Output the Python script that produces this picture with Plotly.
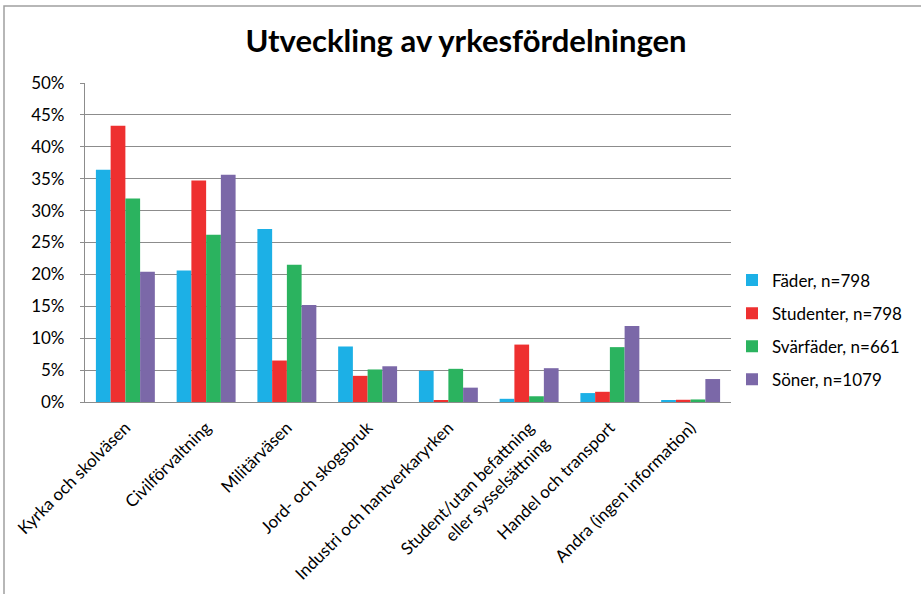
import plotly.graph_objects as go

# categories and series (percent)
categories = [
    "Kyrka och skolväsen",
    "Civilförvaltning",
    "Militärväsen",
    "Jord- och skogsbruk",
    "Industri och hantverkaryrken",
    "Student/utan befattning<br>eller sysselsättning",
    "Handel och transport",
    "Andra (ingen information)",
]
fader = [36.4, 20.6, 27.1, 8.7, 4.9, 0.5, 1.4, 0.2]
studenter = [43.3, 34.7, 6.5, 4.1, 0.2, 9.0, 1.6, 0.35]
svarfader = [31.9, 26.2, 21.5, 5.1, 5.2, 0.9, 8.6, 0.4]
soner = [20.4, 35.6, 15.2, 5.6, 2.25, 5.3, 11.9, 3.6]

series_names = ["Fäder, n=798", "Studenter, n=798", "Svärfäder, n=661", "Söner, n=1079"]
series_values = [fader, studenter, svarfader, soner]
colors = ["#1CB0E6", "#EE3030", "#2BB35F", "#7B68A8"]

FONT = "Lato, Liberation Sans, sans-serif"

fig = go.Figure()
for name, vals, col in zip(series_names, series_values, colors):
    fig.add_trace(go.Bar(
        name=name, x=categories, y=[v / 100 for v in vals],
        marker=dict(color=col, line=dict(width=0)),
        legendgroup=name,
    ))

# plot area in pixels: x 85..731, y 83..402
L, R, T, B = 85, 921 - 731, 83, 594 - 402
W, H = 921 - L - R, 594 - T - B

def px_x(p):
    return (p - L) / W

def px_y(p):
    return (594 - B - p) / H

fig.update_layout(
    width=921, height=594,
    margin=dict(l=L, r=R, t=T, b=B, autoexpand=False),
    paper_bgcolor="white", plot_bgcolor="white",
    barmode="group", bargap=0.27, bargroupgap=0,
    font=dict(family=FONT, size=16, color="#000000"),
    title=dict(text="<b>Utveckling av yrkesfördelningen</b>",
               x=px_x(466), xref="paper", xanchor="center",
               y=1 - 41 / 594, yanchor="middle",
               font=dict(family=FONT, size=31, color="#000000")),
    legend=dict(x=px_x(732), y=px_y(330), xanchor="left", yanchor="middle",
                font=dict(family=FONT, size=17), tracegroupgap=8,
                itemwidth=30, traceorder="grouped",
                bgcolor="rgba(0,0,0,0)"),
    shapes=[dict(type="rect", xref="paper", yref="paper",
                 x0=px_x(4), x1=px_x(930), y0=px_y(600), y1=px_y(6),
                 line=dict(color="#a0a0a0", width=1.5), layer="below")],
)
fig.update_yaxes(range=[0, 0.5], dtick=0.05, tickformat=".0%",
                 showgrid=True, gridcolor="#8c8c8c", gridwidth=1.2,
                 showline=True, linecolor="#8c8c8c", linewidth=1.2,
                 ticks="outside", ticklen=4, tickcolor="#8c8c8c",
                 ticklabelstandoff=12, automargin=False,
                 tickfont=dict(size=17), zeroline=False)
fig.update_xaxes(showline=True, linecolor="#8c8c8c", linewidth=1.2,
                 tickangle=-45, tickfont=dict(size=17), ticks="",
                 ticklabelstandoff=8, automargin=False)

# drop the default page margin so the figure sits at the window corner
fig.write_html("out.html", config={"displayModeBar": False},
               post_script="document.body.style.margin='0px';")
